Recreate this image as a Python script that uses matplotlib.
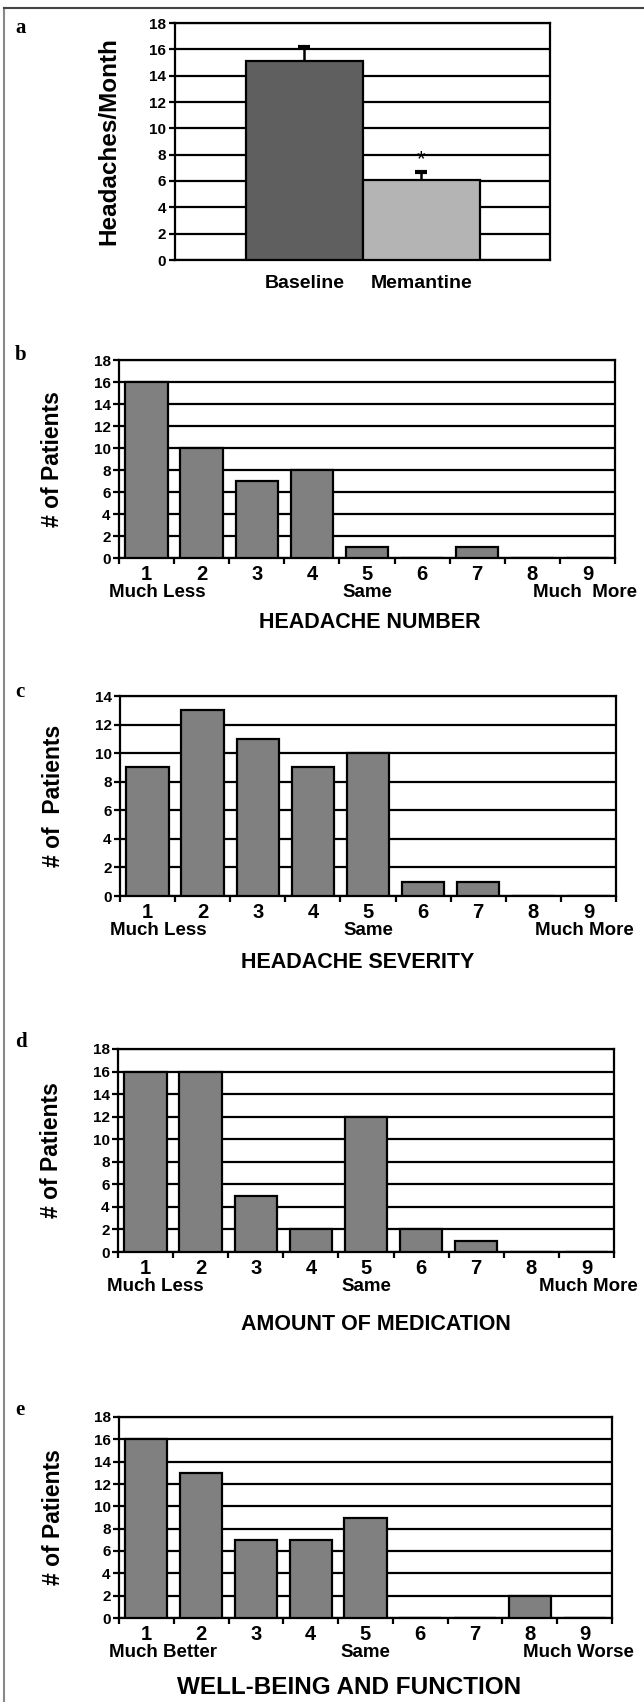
import matplotlib.pyplot as plt
import numpy as np
from matplotlib.lines import Line2D

plt.rcParams['font.family'] = ['Liberation Sans', 'DejaVu Sans']

# panel a data
groups_a = ['Baseline', 'Memantine']
means_a = [15.1, 6.1]
errs_a = [1.1, 0.6]
colors_a = ['#5f5f5f', '#b4b4b4']

# panels b-e data (9-point rating scale)
scale = ['1', '2', '3', '4', '5', '6', '7', '8', '9']
number_b = [16, 10, 7, 8, 1, 0, 1, 0, 0]
severity_c = [9, 13, 11, 9, 10, 1, 1, 0, 0]
medication_d = [16, 16, 5, 2, 12, 2, 1, 0, 0]
wellbeing_e = [16, 13, 7, 7, 9, 0, 0, 2, 0]

titles = ['HEADACHE NUMBER', 'HEADACHE SEVERITY', 'AMOUNT OF MEDICATION', 'WELL-BEING AND FUNCTION']
ylabels = ['# of Patients', '# of  Patients', '# of Patients', '# of Patients']
anchors_less = ['Much Less', 'Much Less', 'Much Less', 'Much Better']
anchors_more = ['Much  More', 'Much More', 'Much More', 'Much Worse']
ymaxes = [18, 14, 18, 18]

W, H = 644, 1702
fig = plt.figure(figsize=(W / 100, H / 100), dpi=100)

def box(l, t, r, b):
    return [l / W, 1 - b / H, (r - l) / W, (b - t) / H]

LW = 1.6

def style(ax, ymax):
    ax.set_ylim(0, ymax)
    ax.set_yticks(np.arange(0, ymax + 1, 2))
    ax.yaxis.grid(True, color='black', lw=LW)
    ax.set_axisbelow(True)
    for s in ax.spines.values():
        s.set_linewidth(LW)
    ax.tick_params(axis='y', length=4, width=LW, labelsize=11, pad=2)
    for t in ax.get_yticklabels():
        t.set_fontweight('bold')

# ---- panel a
ax = fig.add_axes(box(174.5, 23, 550, 260))
x = np.arange(len(groups_a))
ax.bar(x, means_a, width=1.0, color=colors_a, edgecolor='black', lw=LW, zorder=3)
tops = np.array(means_a) + np.array(errs_a)
ax.vlines(x, means_a, tops, color='black', lw=1.8, zorder=4)
ax.plot(x, tops, ls='none', marker='_', ms=8.6, mew=3, color='black', zorder=4)
ax.text(x[1], 7.6, '*', ha='center', va='center', fontsize=16)
ax.set_xlim(-1.11, 2.10)
style(ax, 18)
ax.set_xticks(x)
ax.set_xticklabels(groups_a, fontsize=14, fontweight='bold')
ax.tick_params(axis='x', length=0, pad=11)
ax.set_ylabel('Headaches/Month', fontsize=17.5, fontweight='bold')
ax.yaxis.set_label_coords(-0.145, 0.5)

# ---- panels b-e
series = [number_b, severity_c, medication_d, wellbeing_e]
boxes = [(119, 360, 615, 558), (120, 696, 616, 896), (118, 1049, 614, 1252), (119, 1417, 612, 1618)]
title_off = [64, 67, 73, 70]
title_x = [0.505, 0.48, 0.52, 0.467]
title_size = [15.5, 15.5, 15.5, 17.5]
less_pos = [1.2, 1.2, 1.17, 1.3]
more_pos = [8.96, 8.92, 9.03, 8.88]

for i, vals in enumerate(series):
    ax = fig.add_axes(box(*boxes[i]))
    xs = np.arange(1, len(scale) + 1)
    ax.bar(xs, vals, width=0.77, color='#808080', edgecolor='black', lw=LW, zorder=3)
    ax.set_xlim(0.5, len(scale) + 0.5)
    style(ax, ymaxes[i])
    ax.set_xticks(xs)
    ax.set_xticklabels(scale, fontsize=14.5, fontweight='bold')
    ax.set_xticks(np.arange(0.5, len(scale) + 1, 1), minor=True)
    ax.tick_params(axis='x', which='major', length=0, pad=5)
    ax.tick_params(axis='x', which='minor', length=4, width=LW)
    ax.set_ylabel(ylabels[i], fontsize=16.5, fontweight='bold')
    ax.yaxis.set_label_coords(-0.11, 0.5)
    for lab, pos in [(anchors_less[i], less_pos[i]), ('Same', 5), (anchors_more[i], more_pos[i])]:
        ax.annotate(lab, xy=(pos, 0), xycoords=('data', 'axes fraction'),
                    xytext=(0, -25), textcoords='offset points',
                    ha='center', va='center', fontsize=13.5, fontweight='bold',
                    annotation_clip=False)
    ax.annotate(titles[i], xy=(title_x[i], 0), xycoords='axes fraction',
                xytext=(0, -title_off[i] * 0.72), textcoords='offset points',
                ha='center', va='center', fontsize=title_size[i], fontweight='bold')

# panel letters
for letter, ybase in zip('abcde', [33, 360, 697, 1047, 1415]):
    fig.text(15 / W, 1 - ybase / H, letter, fontsize=15, fontweight='bold',
             family='Liberation Serif', va='baseline', ha='left')

# page frame (left and top only)
fig.add_artist(Line2D([3.5 / W, 3.5 / W], [0, 1 - 8 / H], color='#888888', lw=1.5))
fig.add_artist(Line2D([3.5 / W, 1], [1 - 8 / H, 1 - 8 / H], color='#444444', lw=1.5))

fig.savefig('out.png', dpi=100)
